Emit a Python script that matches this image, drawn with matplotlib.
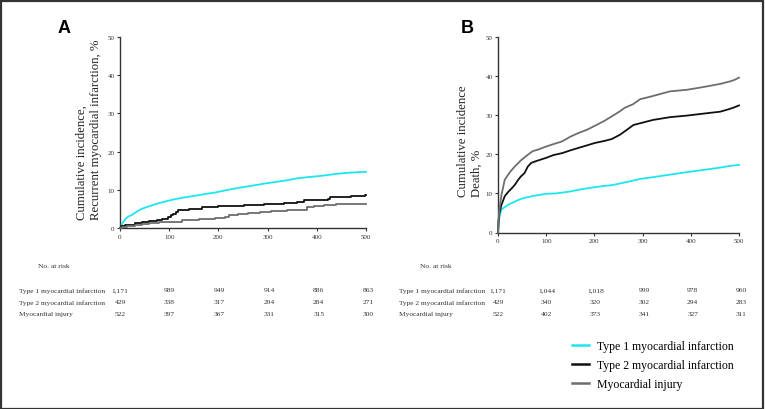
import matplotlib
matplotlib.use("Agg")
import matplotlib.pyplot as plt
import matplotlib.transforms as mtransforms
from matplotlib.lines import Line2D
from matplotlib.patches import Rectangle

plt.rcParams['font.family'] = ['Liberation Serif', 'DejaVu Serif']

# --- Data: panel A (recurrent MI) ---
t1_a = [0, 3, 7, 12, 17, 24, 31, 38, 44, 55, 71, 85, 97, 110, 126, 145, 160, 178, 194,
        212, 228, 245, 270, 292, 313, 340, 360, 381, 405, 430, 449, 470, 497, 500]
v1_a = [0, 0.7, 1.7, 2.5, 3.0, 3.4, 4.0, 4.6, 5.0, 5.5, 6.2, 6.7, 7.1, 7.5, 7.9, 8.3, 8.6,
        9.0, 9.3, 9.8, 10.2, 10.6, 11.1, 11.6, 12.0, 12.5, 13.0, 13.3, 13.6, 14.0, 14.3,
        14.5, 14.7, 14.7]
t2_a = [0, 3, 10, 31, 45, 58, 75, 85, 97, 103, 108, 113, 118, 126, 140, 160, 167, 200, 252,
        270, 292, 333, 360, 374, 400, 422, 426, 450, 470, 497, 500]
v2_a = [0, 0.5, 0.9, 1.3, 1.6, 1.9, 2.1, 2.3, 2.8, 3.3, 3.7, 4.3, 4.6, 4.8, 5.0, 5.1, 5.6,
        5.7, 5.9, 6.1, 6.3, 6.6, 6.8, 7.2, 7.3, 7.6, 8.0, 8.2, 8.4, 8.7, 8.7]
t3_a = [0, 5, 15, 31, 45, 58, 80, 97, 126, 160, 194, 214, 221, 240, 260, 285, 306, 340, 374,
        381, 395, 415, 440, 497, 500]
v3_a = [0, 0.2, 0.5, 0.7, 1.0, 1.3, 1.5, 1.7, 2.0, 2.3, 2.6, 3.0, 3.4, 3.6, 3.8, 4.1, 4.4,
        4.6, 4.8, 5.4, 5.7, 6.0, 6.2, 6.3, 6.3]

# --- Data: panel B (death) ---
t1_b = [0, 1, 3, 7, 14, 21, 30, 40, 48, 60, 76, 100, 120, 133, 150, 166, 185, 201, 220, 236,
        263, 295, 330, 357, 390, 426, 461, 480, 500]
v1_b = [0, 2.0, 4.0, 5.9, 6.5, 7.1, 7.6, 8.2, 8.6, 9.0, 9.4, 9.9, 10.0, 10.2, 10.5, 10.9,
        11.3, 11.6, 11.9, 12.1, 12.8, 13.7, 14.3, 14.8, 15.4, 16.0, 16.6, 17.0, 17.3]
t2_b = [0, 1, 3, 7, 14, 22, 30, 35, 42, 48, 55, 62, 69, 80, 100, 115, 133, 150, 166, 185, 201,
        220, 236, 253, 270, 281, 300, 322, 357, 392, 426, 461, 478, 490, 500]
v2_b = [0, 2.5, 5.0, 7.0, 9.3, 10.5, 11.5, 12.2, 13.5, 14.4, 15.2, 16.9, 17.8, 18.3, 19.1,
        19.8, 20.3, 21.0, 21.6, 22.3, 22.9, 23.4, 23.9, 25.0, 26.5, 27.5, 28.1, 28.8, 29.5,
        29.9, 30.4, 30.9, 31.5, 32.0, 32.5]
t3_b = [0, 1, 3, 7, 14, 25, 35, 48, 62, 72, 83, 100, 115, 133, 150, 166, 185, 201, 220, 236,
        253, 263, 280, 295, 315, 336, 357, 392, 426, 461, 480, 490, 500]
v3_b = [0, 3, 6, 9.5, 13.5, 15.5, 16.9, 18.5, 19.9, 20.8, 21.2, 22.0, 22.6, 23.3, 24.5, 25.4,
        26.3, 27.3, 28.5, 29.7, 31.0, 31.9, 32.8, 34.1, 34.7, 35.4, 36.1, 36.5, 37.2, 38.0,
        38.6, 39.0, 39.6]

# --- Numbers at risk ---
risk_times = [0, 100, 200, 300, 400, 500]
groups = ['Type 1 myocardial infarction', 'Type 2 myocardial infarction', 'Myocardial injury']
risk_a = [['1,171', '989', '949', '914', '886', '863'],
          ['429', '338', '317', '294', '284', '271'],
          ['522', '397', '367', '331', '315', '300']]
risk_b = [['1,171', '1,044', '1,018', '999', '978', '960'],
          ['429', '340', '320', '302', '294', '283'],
          ['522', '402', '373', '341', '327', '311']]

colors = ['#1de6ef', '#111111', '#6e6e6e']

W, H = 765, 410
fig = plt.figure(figsize=(W / 100, H / 100), dpi=100)

def px(x, y):
    return x / W, 1 - y / H

def setup(ax):
    ax.set_xlim(0, 500)
    ax.set_ylim(0, 50)
    ax.set_xticks(risk_times)
    ax.set_yticks([0, 10, 20, 30, 40, 50])
    for s in ['top', 'right']:
        ax.spines[s].set_visible(False)
    for s in ['left', 'bottom']:
        ax.spines[s].set_color('#333333')
        ax.spines[s].set_linewidth(1.0)
    ax.tick_params(labelsize=5, length=2, width=0.8, color='#333333',
                   labelcolor='#333333', pad=2)

ax_a = fig.add_axes([120 / W, 1 - 229 / H, 246 / W, 191 / H])
ax_b = fig.add_axes([498 / W, 1 - 233.5 / H, 241 / W, 195.5 / H])

# steps only where they are visible in the original (A: type 2 and injury)
styles_a = ['default', 'steps-post', 'steps-post']
styles_b = ['default', 'default', 'default']
for ax, series, styles in [(ax_a, [(t1_a, v1_a), (t2_a, v2_a), (t3_a, v3_a)], styles_a),
                           (ax_b, [(t1_b, v1_b), (t2_b, v2_b), (t3_b, v3_b)], styles_b)]:
    setup(ax)
    for (t, v), c, st in zip(series, colors, styles):
        ax.plot(t, v, drawstyle=st, color=c, lw=1.3, clip_on=False, zorder=3)

# --- y labels ---
fig.text(*px(89, 220), 'Cumulative incidence,\nRecurrent myocardial infarction, %',
         rotation=90, ha='center', va='bottom', multialignment='left', fontsize=9.2,
         color='#222222', linespacing=1.2)
fig.text(*px(470, 197), 'Cumulative incidence\nDeath, %',
         rotation=90, ha='center', va='bottom', multialignment='left', fontsize=9.2,
         color='#222222', linespacing=1.2)

# --- panel letters ---
fig.text(*px(58, 33), 'A', fontsize=13, fontweight='bold', family='Liberation Sans',
         ha='left', va='baseline')
fig.text(*px(461, 33), 'B', fontsize=13, fontweight='bold', family='Liberation Sans',
         ha='left', va='baseline')

# --- risk tables ---
row_y = [291, 303, 315]
for ax, risk, lab_x, head_x in [(ax_a, risk_a, 19, 38), (ax_b, risk_b, 399, 420)]:
    fig.text(*px(head_x, 267), 'No. at risk', fontsize=5.4, color='#333333', va='center')
    trans = mtransforms.blended_transform_factory(ax.transData, fig.transFigure)
    for g, row, y in zip(groups, risk, row_y):
        fig.text(*px(lab_x, y), g, fontsize=5.3, color='#333333', va='center')
        for tt, val in zip(risk_times, row):
            ax.text(tt * 1.01, 1 - y / H, val, transform=trans, fontsize=5.4, color='#333333',
                    ha='center', va='center', clip_on=False)

# --- legend ---
handles = [Line2D([], [], color=c, lw=1.8) for c in colors]
fig.legend(handles, groups, loc='upper left', bbox_to_anchor=px(572, 341), frameon=False,
           fontsize=8.5, handlelength=1.4, handletextpad=0.75, labelspacing=0.58,
           borderpad=0, borderaxespad=0)

# --- outer frame ---
fig.patches.append(Rectangle((0.5 / W, 0.5 / H), 1 - 2.5 / W, 1 - 2.5 / H,
                             transform=fig.transFigure, fill=False, edgecolor='#333333',
                             lw=1.6))

fig.savefig('out.png', dpi=100)
